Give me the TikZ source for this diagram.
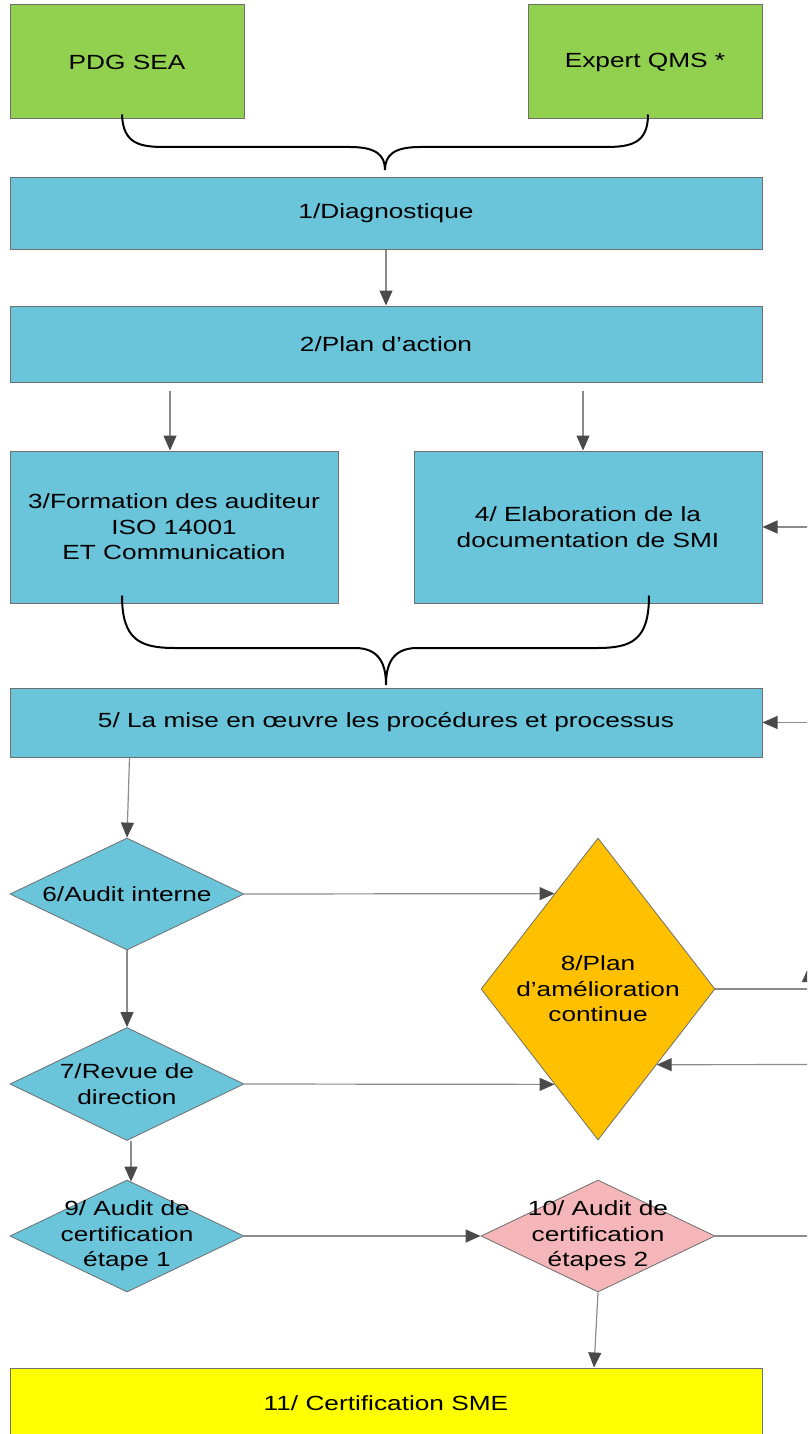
\documentclass[tikz,border=0pt]{standalone}
\usepackage{fontspec}
\setmainfont{Liberation Sans}[FakeStretch=1.28]
\usetikzlibrary{shapes.geometric,arrows.meta,calc}
\definecolor{boxgreen}{HTML}{92D050}
\definecolor{boxblue}{HTML}{6AC4DA}
\definecolor{boxorange}{HTML}{FFC000}
\definecolor{boxpink}{HTML}{F4B6B8}
\definecolor{boxyellow}{HTML}{FFFF00}
\definecolor{edgegray}{HTML}{6E6E6E}
\definecolor{linegray}{HTML}{8C8C8C}
\definecolor{tipgray}{HTML}{4A4A4A}
\begin{document}
\begin{tikzpicture}[x=1pt,y=-1pt,
  every node/.style={font=\fontsize{20.5}{25.5}\selectfont},
  box/.style={draw=edgegray, line width=1pt, rectangle, inner sep=0pt, align=center},
  dia/.style={draw=edgegray, line width=0.8pt, diamond, inner sep=0pt,
              minimum width=234pt, minimum height=112pt},
  lbl/.style={align=center, inner sep=0pt},
  arr/.style={draw=linegray, line width=1.2pt,
              -{Triangle[length=15pt,width=13pt,color=tipgray]}},
  conn/.style={draw=linegray, line width=1.2pt},
  brace/.style={draw=black, line width=2pt}]

\useasboundingbox (0,0) rectangle (807,1434);
\clip (0,0) rectangle (807,1434);

% actors
\node[box, fill=boxgreen, minimum width=234pt, minimum height=114pt] (pdg) at (127,62) {PDG SEA};
\node[box, fill=boxgreen, minimum width=234pt, minimum height=114pt] (qms) at (645,62) {Expert QMS *};

% process boxes
\node[box, fill=boxblue, minimum width=752pt, minimum height=71pt] (b1) at (386,213.5) {1/Diagnostique};
\node[box, fill=boxblue, minimum width=752pt, minimum height=76pt] (b2) at (386,344) {2/Plan d’action};
\node[box, fill=boxblue, minimum width=328pt, minimum height=152pt] (b3) at (174,527)
  {3/Formation des auditeur\\ISO 14001\\ET Communication};
\node[box, fill=boxblue, minimum width=348pt, minimum height=152pt] (b4) at (588,527)
  {4/ Elaboration de la\\documentation de SMI};
\node[box, fill=boxblue, minimum width=752pt, minimum height=69pt] (b5) at (386,722.5)
  {5/ La mise en œuvre les procédures et processus};
\node[box, fill=boxyellow, minimum width=752pt, minimum height=70pt] (b11) at (386,1403)
  {11/ Certification SME};

% decisions
\node[dia, fill=boxblue] (d6) at (127,894) {};
\node[lbl] at (d6) {6/Audit interne};
\node[dia, fill=boxblue, minimum height=113pt] (d7) at (127,1084) {};
\node[lbl] at (d7) {7/Revue de\\direction};
\node[dia, fill=boxorange, minimum height=302pt] (d8) at (598,989) {};
\node[lbl] at (d8) {8/Plan\\d’amélioration\\continue};
\node[dia, fill=boxblue] (d9) at (127,1236) {};
\node[lbl] at (d9) {9/ Audit de\\certification\\étape 1};
\node[dia, fill=boxpink] (d10) at (598,1236) {};
\node[lbl] at (d10) {10/ Audit de\\certification\\étapes 2};

% braces
\coordinate (t1) at (385,170);
\coordinate (t2) at (386,685);
\draw[brace] ([xshift=-5,yshift=5]pdg.south) .. controls (123,144) and (140,147) .. (165,147)
  -- (350,147) .. controls (376,147) and (385,155) .. (t1)
  .. controls (385,155) and (394,147) .. (420,147) -- (605,147)
  .. controls (630,147) and (648,144) .. ([xshift=3,yshift=5]qms.south);
\draw[brace] ([xshift=-52,yshift=8]b3.south) .. controls (122,640) and (140,648) .. (175,648)
  -- (355,648) .. controls (380,648) and (386,665) .. (t2)
  .. controls (386,665) and (392,648) .. (417,648) -- (597,648)
  .. controls (632,648) and (649,640) .. ([xshift=61,yshift=8]b4.south);

% flow
\draw[arr] (b1.south) -- (b2.north);
\draw[arr, shorten <=8pt] ([xshift=-4]b2.south -| b3.north) -- ([xshift=-4]b3.north);
\draw[arr, shorten <=8pt] ([xshift=-5]b2.south -| b4.north) -- ([xshift=-5]b4.north);
\draw[arr] ([xshift=120]b5.south west) -- (d6.north);
\draw[arr] (d6.south) -- (d7.north);
\draw[arr] (d6.east) -- ($(d8.north)!0.37!(d8.west)$ |- d6.east);
\draw[arr] (d7.east) -- ($(d8.west)!0.63!(d8.south)$ |- d7.east);
\draw[arr] ([xshift=4]d7.south) -- ([xshift=4,yshift=-2]d9.north);
\draw[arr] (d9.east) -- (d10.west);
\draw[arr] (d10.south) -- ([xshift=-4]d10.south |- b11.north);

% connectors leaving or entering at the right margin
\coordinate (r4) at (830,527);
\coordinate (r5) at (830,722.5);
\coordinate (r8out) at (830,989);
\coordinate (r8in) at (830,1064.5);
\coordinate (r10) at (830,1236);
\coordinate (rupa) at (808.5,1000);
\coordinate (rupb) at (808.5,967);
\draw[arr] (r4) -- (b4.east);
\draw[arr] (r5) -- (b5.east);
\draw[conn] (d8.east) -- (r8out);
\draw[arr] (r8in) -- ($(d8.east)!0.5!(d8.south)$ |- r8in);
\draw[conn] (d10.east) -- (r10);
\draw[arr] (rupa) -- (rupb);
\end{tikzpicture}
\end{document}
